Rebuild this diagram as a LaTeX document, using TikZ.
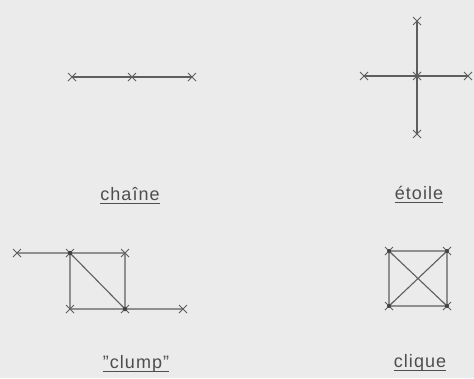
\documentclass[tikz,border=0pt]{standalone}
\usepackage{fontspec}
\setmainfont{Liberation Sans}[LetterSpace=6]
\usetikzlibrary{shapes.misc}
\definecolor{bg}{HTML}{EBEBEB}
\definecolor{ln}{HTML}{5E5E5E}
\definecolor{tx}{HTML}{4E4E4E}
\tikzset{
  vx/.style={cross out,draw=ln,line width=1pt,minimum size=7pt,inner sep=0pt},
  dotv/.style={circle,fill=ln!70!black,minimum size=4.5pt,inner sep=0pt},
  edge/.style={draw=ln,line width=1.1pt},
  lab/.style={text=tx,font=\fontsize{18}{20}\selectfont,inner sep=0pt,anchor=base},
  ul/.style={draw=tx,line width=1pt}
}
\begin{document}
\begin{tikzpicture}[x=1pt,y=-1pt]
\fill[bg] (0,0) rectangle (474,378);
\useasboundingbox (0,0) rectangle (474,378);
% chaine
\node[vx] (c1) at (72,77) {};
\node[vx] (c2) at (132,77) {};
\node[vx] (c3) at (192,77) {};
\path[edge] (c1.center) -- (c2.center) -- (c3.center);
% etoile
\node[vx] (s0) at (417,76) {};
\node[vx] (sl) at (364,76) {};
\node[vx] (sr) at (468,76) {};
\node[vx] (st) at (417,21) {};
\node[vx] (sb) at (417,134) {};
\path[edge] (sl.center) -- (sr.center) (st.center) -- (sb.center);
% clump
\node[vx] (k0) at (17,253) {};
\node[vx] (k1) at (70,253) {};
\node[vx] (k2) at (125,253) {};
\node[vx] (k3) at (70,309) {};
\node[vx] (k4) at (125,309) {};
\node[vx] (k5) at (183,309) {};
\path[edge] (k0.center) -- (k1.center) -- (k2.center) -- (k4.center) -- (k5.center)
  (k1.center) -- (k3.center) -- (k4.center) (k1.center) -- (k4.center);
\node[dotv] (k1d) at (k1) {};
\node[dotv] (k4d) at (k4) {};
% clique
\node[vx] (q1) at (389,251) {};
\node[vx] (q2) at (447,251) {};
\node[vx] (q3) at (389,306) {};
\node[vx] (q4) at (447,306) {};
\path[edge] (q1.center) -- (q2.center) -- (q4.center) -- (q3.center) -- cycle
  (q1.center) -- (q4.center) (q2.center) -- (q3.center);
\node[dotv,minimum size=4pt] (q1d) at (q1) {};
\node[dotv,minimum size=4pt] (q2d) at (q2) {};
\node[dotv,minimum size=4pt] (q3d) at (q3) {};
\node[dotv,minimum size=4pt] (q4d) at (q4) {};
% labels
\node[lab] (l1) at (130,200) {chaîne};
\node[lab] (l2) at (419,199) {étoile};
\node[lab] (l3) at (136,368) {"clump"};
\node[lab] (l4) at (420,367) {clique};
\draw[ul] ([yshift=-3pt]l1.base west) -- ([yshift=-3pt]l1.base east);
\draw[ul] ([yshift=-3pt]l2.base west) -- ([yshift=-3pt]l2.base east);
\draw[ul] ([yshift=-3pt]l3.base west) -- ([yshift=-3pt]l3.base east);
\draw[ul] ([yshift=-3pt]l4.base west) -- ([yshift=-3pt]l4.base east);
\end{tikzpicture}
\end{document}
